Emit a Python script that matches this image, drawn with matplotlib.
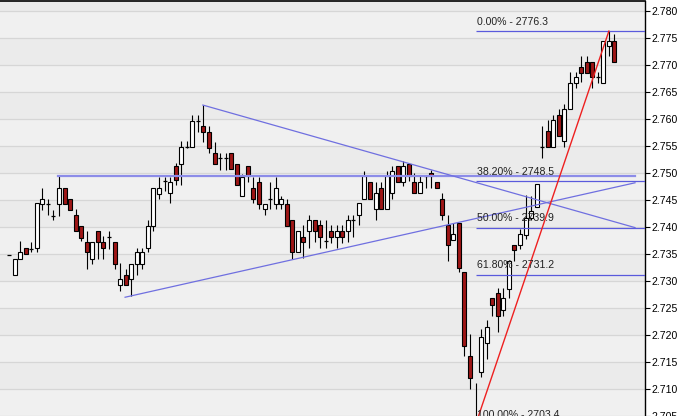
# ==============================================================================
# CANDLESTICK CHART WITH TRENDLINES & FIBONACCI RETRACEMENT
# ==============================================================================
import numpy as np
import matplotlib
matplotlib.use('Agg')
import matplotlib.pyplot as plt
from matplotlib.ticker import FuncFormatter

# --- OHLC data (index points), one entry per bar ---
opens = [2734.8, 2731.1, 2734.0, 2736.1, 2736.0, 2736.1, 2744.3, 2744.3, 2742.1, 2744.2,
         2747.3, 2745.2, 2742.3, 2740.2, 2737.2, 2734.0, 2739.2, 2737.2, 2738.2, 2737.2,
         2729.2, 2731.2, 2730.3, 2733.2, 2733.2, 2736.2, 2740.2, 2746.2, 2748.5, 2746.3,
         2751.4, 2751.7, 2754.8, 2754.8, 2759.7, 2758.8, 2757.7, 2753.7, 2752.8, 2752.8,
         2753.7, 2751.7, 2745.7, 2751.4, 2747.3, 2748.4, 2743.3, 2745.2, 2744.3, 2744.3,
         2744.3, 2741.4, 2735.3, 2738.2, 2739.2, 2741.3, 2740.3, 2737.4, 2739.2, 2738.2,
         2739.2, 2739.2, 2741.3, 2742.2, 2745.2, 2748.4, 2743.3, 2747.3, 2743.3, 2746.3,
         2751.4, 2748.4, 2751.6, 2748.3, 2746.3, 2749.4, 2750.1, 2748.3, 2745.2, 2740.3,
         2737.6, 2740.8, 2731.7, 2716.1, 2703.6, 2713.1, 2718.6, 2726.8, 2727.7, 2724.7,
         2728.6, 2736.7, 2736.7, 2738.6, 2741.7, 2743.8, 2754.8, 2757.8, 2754.8, 2760.8,
         2755.9, 2761.9, 2766.7, 2769.7, 2770.6, 2770.6, 2767.8, 2766.7, 2773.5, 2774.5]
highs = [2734.8, 2734.1, 2737.4, 2736.1, 2737.2, 2744.4, 2747.3, 2745.2, 2743.1, 2749.4,
         2747.3, 2745.2, 2743.3, 2740.2, 2739.2, 2737.2, 2739.2, 2738.3, 2739.2, 2737.2,
         2733.3, 2732.2, 2733.2, 2736.2, 2736.2, 2741.4, 2747.3, 2749.3, 2749.3, 2749.3,
         2751.9, 2755.9, 2755.9, 2760.8, 2760.8, 2762.6, 2758.8, 2755.7, 2753.7, 2753.7,
         2753.7, 2751.7, 2749.9, 2751.4, 2749.3, 2749.3, 2744.3, 2748.3, 2749.3, 2745.7,
         2745.2, 2741.4, 2739.2, 2740.3, 2742.3, 2741.3, 2741.3, 2741.3, 2740.3, 2740.3,
         2740.3, 2742.3, 2742.3, 2744.4, 2750.3, 2748.4, 2748.4, 2748.4, 2750.3, 2751.4,
         2751.4, 2752.2, 2751.6, 2750.0, 2749.4, 2749.4, 2750.6, 2748.3, 2746.3, 2742.3,
         2740.8, 2740.8, 2731.7, 2720.2, 2711.1, 2721.1, 2722.8, 2726.8, 2728.8, 2728.8,
         2733.9, 2736.7, 2739.7, 2746.0, 2745.8, 2747.9, 2758.8, 2759.9, 2760.8, 2761.9,
         2762.8, 2768.8, 2768.8, 2771.6, 2771.6, 2770.6, 2768.8, 2774.5, 2776.3, 2775.8]
lows = [2734.8, 2731.1, 2734.0, 2735.1, 2735.3, 2735.3, 2743.1, 2742.3, 2741.3, 2742.0,
        2744.2, 2743.1, 2739.2, 2737.4, 2732.3, 2733.1, 2734.0, 2734.1, 2735.9, 2732.3,
        2728.2, 2729.2, 2727.2, 2731.2, 2732.2, 2735.3, 2739.2, 2745.2, 2746.6, 2744.4,
        2747.7, 2747.7, 2754.6, 2754.8, 2757.7, 2755.7, 2753.7, 2751.7, 2750.6, 2750.6,
        2750.8, 2747.7, 2745.7, 2748.3, 2744.4, 2743.3, 2742.3, 2743.3, 2743.3, 2743.3,
        2740.2, 2734.1, 2735.3, 2734.3, 2736.2, 2737.2, 2736.2, 2736.2, 2737.1, 2736.2,
        2737.1, 2737.2, 2738.2, 2740.3, 2745.2, 2745.2, 2741.3, 2743.3, 2743.3, 2745.2,
        2748.4, 2747.6, 2748.5, 2746.3, 2746.3, 2747.3, 2747.3, 2747.3, 2741.3, 2733.7,
        2737.6, 2731.7, 2716.1, 2710.0, 2703.4, 2712.2, 2715.6, 2723.5, 2720.5, 2723.5,
        2726.9, 2733.7, 2735.9, 2737.7, 2741.4, 2743.8, 2752.8, 2754.8, 2754.8, 2756.9,
        2754.8, 2761.9, 2765.7, 2766.8, 2768.6, 2765.7, 2766.7, 2766.7, 2771.6, 2770.6]
closes = [2734.8, 2734.1, 2735.3, 2735.1, 2736.0, 2744.4, 2745.2, 2744.3, 2742.1, 2747.3,
          2744.2, 2743.1, 2739.2, 2738.0, 2735.3, 2737.2, 2737.2, 2736.2, 2738.2, 2733.2,
          2730.3, 2729.2, 2733.2, 2735.3, 2735.3, 2740.2, 2747.3, 2747.3, 2748.5, 2748.4,
          2748.7, 2754.8, 2754.8, 2759.7, 2759.7, 2757.7, 2754.6, 2751.7, 2752.8, 2752.8,
          2750.8, 2747.7, 2749.3, 2749.4, 2745.2, 2744.3, 2744.3, 2745.2, 2747.3, 2745.2,
          2740.2, 2735.3, 2739.2, 2737.2, 2741.3, 2739.2, 2738.2, 2737.4, 2738.2, 2739.2,
          2738.2, 2741.3, 2741.3, 2744.4, 2749.4, 2745.2, 2746.3, 2743.3, 2749.4, 2750.3,
          2748.4, 2751.4, 2749.4, 2746.3, 2748.3, 2749.4, 2749.4, 2747.3, 2742.3, 2736.6,
          2738.8, 2732.5, 2718.0, 2712.0, 2704.9, 2719.6, 2721.5, 2725.5, 2723.5, 2726.8,
          2733.7, 2735.7, 2738.8, 2741.7, 2742.9, 2747.9, 2754.8, 2754.8, 2759.9, 2756.9,
          2761.9, 2766.7, 2767.8, 2768.6, 2768.6, 2767.8, 2767.8, 2774.5, 2774.5, 2770.6]

# --- Fibonacci retracement (swing low bar 84 -> swing high bar 108) ---
fib_pcts = [0.0, 38.2, 50.0, 61.8, 100.0]
fib_levels = [2776.3, 2748.5, 2739.9, 2731.2, 2703.4]
fib_start_bar = 84

# --- Hand drawn lines: (x0, y0, x1, y1) in bar index / price ---
support_line = (8.9, 2749.5, 112.7, 2749.5)
down_trend = (34.9, 2762.6, 112.7, 2739.9)
up_trend = (20.9, 2727.0, 112.7, 2748.2)
swing_line = (84, 2703.4, 108, 2776.3)

y_ticks = np.arange(2705, 2781, 5)

fig = plt.figure(figsize=(6.85, 4.16), dpi=100)
ax = fig.add_axes([0, 0, 645 / 685, 1 - 0.6 / 416])
ax.set_facecolor('#f0f0f0')
ax.set_xlim(-1.62, 114.5)
ax.set_ylim(2705.2, 2781.95)

# Alternating horizontal bands + grid
for lo in range(2700, 2781, 10):
    ax.axhspan(lo + 10, lo + 15, color='#ebebeb', zorder=0, lw=0)
for t in y_ticks:
    ax.axhline(t, color='#d6d6d6', lw=0.9, zorder=0.5)

# Candles
x = np.arange(len(opens))
o, h, l, c = map(np.array, (opens, highs, lows, closes))
ax.vlines(x, l, h, color='black', lw=0.8, zorder=2)
up = c >= o
body_w = 0.72
body_lo = np.minimum(o, c)
body_h = np.abs(c - o)
solid = body_h > 0.25
ax.bar(x[solid & up], body_h[solid & up], bottom=body_lo[solid & up], width=body_w,
       color='white', edgecolor='black', linewidth=0.8, zorder=3)
ax.bar(x[solid & ~up], body_h[solid & ~up], bottom=body_lo[solid & ~up], width=body_w,
       color='#9e1616', edgecolor='black', linewidth=0.8, zorder=3)
ax.hlines(c[~solid], x[~solid] - body_w / 2, x[~solid] + body_w / 2,
          color='black', lw=0.9, zorder=3)

# Trendlines
x0, y0, x1, y1 = support_line
ax.plot([x0, x1], [y0, y1], color='#8c8ce8', lw=1.6, zorder=4)
for ln in (down_trend, up_trend):
    ax.plot([ln[0], ln[2]], [ln[1], ln[3]], color='#6f6fe0', lw=0.9, zorder=4)
ax.plot([swing_line[0], swing_line[2]], [swing_line[1], swing_line[3]],
        color='#ee2020', lw=1.0, zorder=5)

# Fibonacci levels and labels
xmax = ax.get_xlim()[1]
for pct, lvl in zip(fib_pcts, fib_levels):
    ax.hlines(lvl, fib_start_bar, xmax, color='#5a5adc', lw=0.9, zorder=4)
    ax.text(fib_start_bar + 0.3, lvl + 1.75, f"{pct:.2f}% - {lvl:.1f}",
            fontsize=7.6, family='Liberation Sans', color='#222222',
            va='center', ha='left', zorder=6)

# Price axis on the right
ax.yaxis.tick_right()
ax.set_yticks(y_ticks)
ax.yaxis.set_major_formatter(FuncFormatter(lambda v, _: f"{v / 1000:.3f}"))
ax.tick_params(axis='y', direction='out', length=3.5, width=0.8, pad=1.5,
               labelsize=7.6, colors='black')
for lab in ax.get_yticklabels():
    lab.set_family('Liberation Sans')
ax.set_xticks([])
for side in ('left', 'bottom'):
    ax.spines[side].set_visible(False)
ax.spines['right'].set_linewidth(1.0)
ax.spines['top'].set_linewidth(1.2)

fig.savefig('out.png', dpi=100)
plt.close(fig)
